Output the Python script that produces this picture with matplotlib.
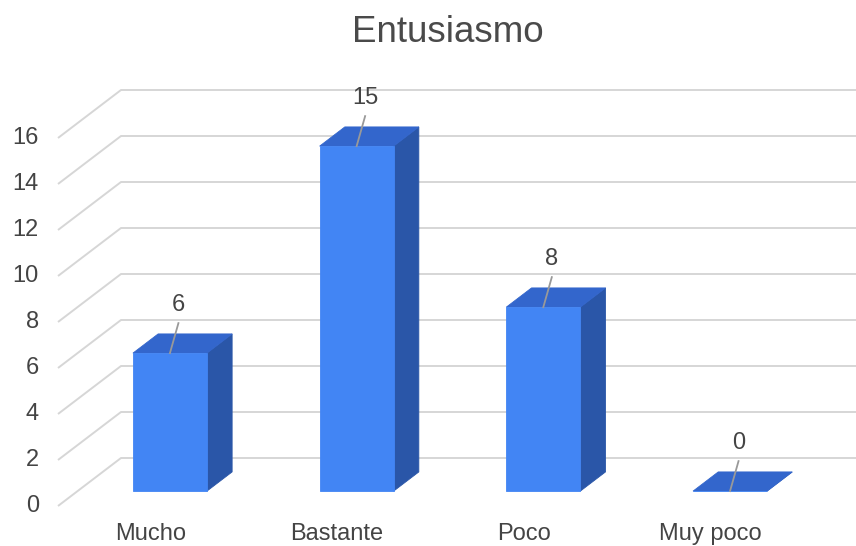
import matplotlib
matplotlib.use("Agg")
import matplotlib.pyplot as plt
from matplotlib.patches import Polygon

plt.rcParams['font.family'] = ['Liberation Sans', 'DejaVu Sans']

# ---- data ----
title = "Entusiasmo"
categories = ["Mucho", "Bastante", "Poco", "Muy poco"]
values = [6, 15, 8, 0]
y_ticks = [0, 2, 4, 6, 8, 10, 12, 14, 16]

# ---- figure / layout (pixel based, 100 dpi) ----
W, H = 856, 546
fig = plt.figure(figsize=(W / 100, H / 100), dpi=100)
ax = fig.add_axes([0, 0, 1, 1])
ax.set_axis_off()

px_per_unit = 23.0        # vertical pixels per value unit
px_per_cat = 186.7        # horizontal pixels between categories
floor_px = 40.0           # front floor height above figure bottom (px)
cat0_px = 150.4           # x of first category on the front plane (px)
depth_dx_px, depth_dy_px = 63.0, 48.0   # oblique offset of the back wall

ax.set_xlim(-cat0_px / px_per_cat, (W - cat0_px) / px_per_cat)
ax.set_ylim(-floor_px / px_per_unit, (H - floor_px) / px_per_unit)

DX = depth_dx_px / px_per_cat
DY = depth_dy_px / px_per_unit


def proj(x, v, z):
    """Oblique projection: depth z in [0, 1] shifts right and up."""
    return (x + z * DX, v + z * DY)


grid_color = "#d6d6d6"
text_color = "#444444"
front_color = "#4285f4"
top_color = "#3366cc"
side_color = "#2a56a8"

# ---- grid: diagonal on the left floor edge, horizontal on back wall ----
left_x = (58 - cat0_px) / px_per_cat
right_x = (W + 20 - cat0_px) / px_per_cat
for v in y_ticks:
    x0, y0 = proj(left_x, v, 0)
    x1, y1 = proj(left_x, v, 1)
    ax.plot([x0, x1, right_x], [y0, y1, y1], color=grid_color, lw=1.4,
            solid_capstyle="butt", zorder=1)
    ax.text((39 - cat0_px) / px_per_cat, v, str(v), ha="right", va="center",
            fontsize=17, color=text_color)

# ---- 3D bars ----
bar_w = 74 / px_per_cat
z_front, z_back = 0.31, 0.71
for i, (cat, val) in enumerate(zip(categories, values)):
    xl, xr = i - bar_w / 2, i + bar_w / 2
    # right side face
    side = [proj(xr, 0, z_front), proj(xr, 0, z_back),
            proj(xr, val, z_back), proj(xr, val, z_front)]
    # top face
    top = [proj(xl, val, z_front), proj(xr, val, z_front),
           proj(xr, val, z_back), proj(xl, val, z_back)]
    # front face
    front = [proj(xl, 0, z_front), proj(xr, 0, z_front),
             proj(xr, val, z_front), proj(xl, val, z_front)]
    for pts, col in ((side, side_color), (top, top_color), (front, front_color)):
        ax.add_patch(Polygon(pts, closed=True, facecolor=col, edgecolor=col,
                             lw=0.6, zorder=3))

    # value label with leader line
    sx, sy = proj(i, val, z_front)
    ex, ey = sx + 8.5 / px_per_cat, sy + 30 / px_per_unit
    ax.plot([sx, ex], [sy, ey], color="#999999", lw=1.3, zorder=4)
    ax.text(ex, ey + 18 / px_per_unit, str(val), ha="center", va="center",
            fontsize=17, color=text_color, zorder=5)

    # category label
    ax.text(i, (12 - floor_px) / px_per_unit, cat, ha="center", va="center",
            fontsize=17, color=text_color)

fig.text(448 / W, 1 - 42 / H, title, ha="center", va="baseline",
         fontsize=26.5, color="#4a4a4a")

fig.savefig("out.png", dpi=100)
